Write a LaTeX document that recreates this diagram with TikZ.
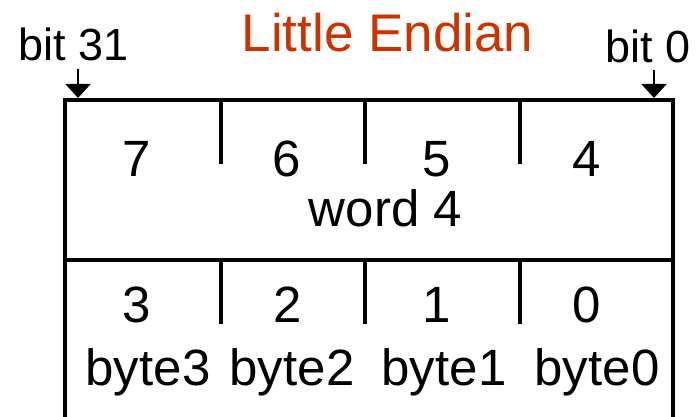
\documentclass[tikz,border=0pt]{standalone}
\usepackage{fontspec}
\setmainfont{Liberation Sans}
\usetikzlibrary{arrows.meta}
\definecolor{titlered}{RGB}{204,51,0}
\begin{document}
\begin{tikzpicture}[x=1pt,y=-1pt,
  box/.style={line width=4.5pt,line join=miter},
  divider/.style={line width=4pt},
  lbl/.style={anchor=base,inner sep=0pt,font=\fontsize{51}{60}\selectfont},
  bitlbl/.style={anchor=base,inner sep=0pt,font=\fontsize{45}{54}\selectfont},
  ptr/.style={line width=2pt,-{Triangle[width=25pt,length=14pt]}}]
\useasboundingbox (0,0) rectangle (697,417);
% title and bit labels
\node[lbl,text=titlered,font=\fontsize{53}{62}\selectfont] (title) at (387.5,52) {Little Endian};
\node[bitlbl] (b31) at (73.5,61) {bit 31};
\node[bitlbl] (b0) at (648.5,63) {bit 0};
% arrows
\coordinate (a31s) at (78,69);
\coordinate (a31e) at (78,98);
\coordinate (a0s) at (654,70);
\coordinate (a0e) at (654,98);
\draw[ptr] (a31s) -- (a31e);
\draw[ptr] (a0s) -- (a0e);
% frame
\draw[box] (65,417) -- (65,100) -- (673,100) -- (673,417);
\draw[box] (65,260) -- (673,260);
% dividers
\foreach \x in {221,365,520} {
  \draw[divider] (\x,100) -- (\x,164);
  \draw[divider] (\x,260) -- (\x,324);
}
% word row
\node[lbl] (d7) at (137,177) {7};
\node[lbl] (d6) at (287,177) {6};
\node[lbl] (d5) at (437,177) {5};
\node[lbl] (d4) at (587,177) {4};
\node[lbl] (w4) at (385.5,227) {word 4};
% byte row
\node[lbl] (d3) at (137,322) {3};
\node[lbl] (d2) at (288,322) {2};
\node[lbl] (d1) at (437,322) {1};
\node[lbl] (d0) at (587,322) {0};
\node[lbl] (by3) at (148,385) {byte3};
\node[lbl] (by2) at (292,385) {byte2};
\node[lbl] (by1) at (444,385) {byte1};
\node[lbl] (by0) at (597,385) {byte0};
\end{tikzpicture}
\end{document}
